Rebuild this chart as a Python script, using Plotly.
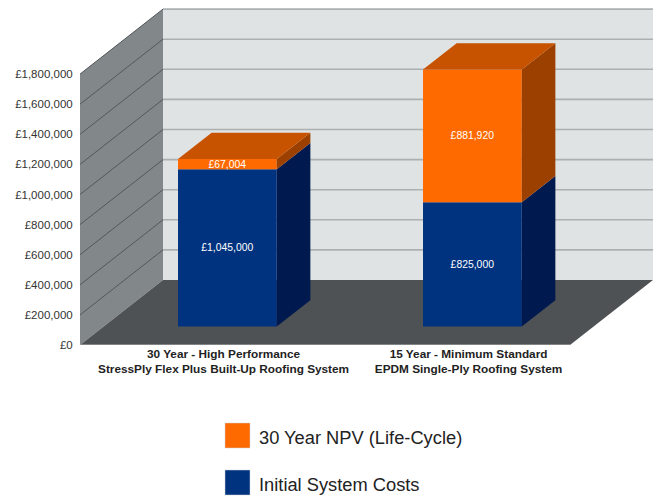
import plotly.graph_objects as go

# ---- data ----
categories = ["30 Year - High Performance<br>StressPly Flex Plus Built-Up Roofing System",
              "15 Year - Minimum Standard<br>EPDM Single-Ply Roofing System"]
initial_costs = [1045000, 825000]
npv_costs = [67004, 881920]
y_ticks = [0, 200000, 400000, 600000, 800000, 1000000, 1200000, 1400000, 1600000, 1800000]
y_tick_labels = ["£0", "£200,000", "£400,000", "£600,000", "£800,000", "£1,000,000",
                 "£1,200,000", "£1,400,000", "£1,600,000", "£1,800,000"]
initial_name = "Initial System Costs"
npv_name = "30 Year NPV (Life-Cycle)"

# ---- oblique projection set-up ----
W, H = 654, 496
ML, MR, MT, MB = 80, 1, 8, 151
PX_PER_CAT = 245.0
UNITS_PER_PX = 200000 / 30.1
plot_w, plot_h = W - ML - MR, H - MT - MB
x_max = plot_w / PX_PER_CAT
y_max = plot_h * UNITS_PER_PX
DEPTH_X = 83 / PX_PER_CAT
DEPTH_Y = 65 * UNITS_PER_PX
BAR_W = 0.403
D0, D1 = 0.285, 0.69   # bar front and back, as fractions of the depth


def proj(x, y, d):
    return x + d * DEPTH_X, y + d * DEPTH_Y


def poly(xs_ys, color, name=""):
    xs = [p[0] for p in xs_ys] + [xs_ys[0][0]]
    ys = [p[1] for p in xs_ys] + [xs_ys[0][1]]
    return go.Scatter(x=xs, y=ys, mode="lines", fill="toself", fillcolor=color,
                      line=dict(width=0, color=color), hoverinfo="skip", showlegend=False)


def path(points):
    return "M" + " L".join(f"{a},{b}" for a, b in points) + " Z"


WALL, SIDEWALL, FLOOR = "#E0E3E3", "#82878A", "#4F5254"
BLUE, BLUE_SIDE = "#00337F", "#001A50"
ORANGE, ORANGE_TOP, ORANGE_SIDE = "#FF6A00", "#C75200", "#9C4000"

shapes = []
top = y_ticks[-1]
shapes.append(dict(type="path", xref="x", yref="y", layer="below", line_width=0, fillcolor=SIDEWALL,
                   path=path([proj(0, 0, 0), proj(0, top, 0), proj(0, top, 1), proj(0, 0, 1)])))
shapes.append(dict(type="path", xref="x", yref="y", layer="below", line_width=0, fillcolor=WALL,
                   path=path([proj(0, 0, 1), proj(0, top, 1), proj(2, top, 1), proj(2, 0, 1)])))
shapes.append(dict(type="path", xref="x", yref="y", layer="below", line_width=0, fillcolor=FLOOR,
                   path=path([proj(0, 0, 0), proj(0, 0, 1), proj(2, 0, 1), proj(2, 0, 0)])))
for v in y_ticks[1:]:
    a, b, c = proj(0, v, 0), proj(0, v, 1), proj(2, v, 1)
    shapes.append(dict(type="line", xref="x", yref="y", layer="below", x0=a[0], y0=a[1], x1=b[0], y1=b[1],
                       line=dict(color="#54585A", width=1)))
    shapes.append(dict(type="line", xref="x", yref="y", layer="below", x0=b[0], y0=b[1], x1=c[0], y1=c[1],
                       line=dict(color="#ABB0B0", width=1.6)))
# pale front edge of the floor
shapes.append(dict(type="line", xref="x", yref="y", layer="below", x0=0, y0=0, x1=2, y1=0,
                   line=dict(color="#B4B8B8", width=1.2)))


# legend swatches in canvas pixels, converted to paper fractions
def px(x):
    return (x - ML) / plot_w


def py(y):
    return 1 - (y - MT) / plot_h


annotations = []
for (y0, color, name) in [(423, ORANGE, npv_name), (470, BLUE, initial_name)]:
    shapes.append(dict(type="rect", xref="paper", yref="paper", x0=px(225), x1=px(250),
                       y0=py(y0 + 25), y1=py(y0), fillcolor=color, line=dict(width=0.5, color="#C8D0D8")))
    annotations.append(dict(xref="paper", yref="paper", x=px(256.5), y=py(y0 + 14), text=name, showarrow=False,
                            xanchor="left", yanchor="middle",
                            font=dict(family="Liberation Sans", size=18.3, color="#222222")))

fig = go.Figure()
centers = [i + 0.5 for i in range(len(categories))]
floor_offset = D0 * DEPTH_Y
bar_x = [c + D0 * DEPTH_X + 0.005 for c in centers]
span = D1 - D0

for i, cx in enumerate(bar_x):
    xr = cx + BAR_W / 2
    xl = cx - BAR_W / 2
    y0 = floor_offset
    y1 = y0 + initial_costs[i]
    y2 = y1 + npv_costs[i]
    s = lambda x, y: (x + span * DEPTH_X, y + span * DEPTH_Y)
    fig.add_trace(poly([(xr, y0), (xr, y1), s(xr, y1), s(xr, y0)], BLUE_SIDE))
    fig.add_trace(poly([(xr, y1), (xr, y2), s(xr, y2), s(xr, y1)], ORANGE_SIDE))
    fig.add_trace(poly([(xl, y2), (xr, y2), s(xr, y2), s(xl, y2)], ORANGE_TOP))

label_font = dict(family="Liberation Sans", size=10.4, color="white")
fig.add_trace(go.Bar(x=bar_x, y=initial_costs, base=[floor_offset] * 2, width=BAR_W, name=initial_name,
                     marker=dict(color=BLUE, line_width=0), text=[f"£{v:,}" for v in initial_costs],
                     textposition="inside", insidetextanchor="middle", textangle=0,
                     insidetextfont=label_font, constraintext="none", showlegend=False))
fig.add_trace(go.Bar(x=bar_x, y=npv_costs, base=[floor_offset + v for v in initial_costs], width=BAR_W,
                     name=npv_name, marker=dict(color=ORANGE, line_width=0),
                     text=[f"£{v:,}" for v in npv_costs], textposition="inside",
                     insidetextanchor="middle", textangle=0, insidetextfont=label_font,
                     constraintext="none", showlegend=False))

fig.update_layout(
    width=W, height=H, paper_bgcolor="white", plot_bgcolor="white", barmode="overlay",
    margin=dict(l=ML, r=MR, t=MT, b=MB, pad=0), showlegend=False,
    shapes=shapes, annotations=annotations,
    font=dict(family="Liberation Sans"),
    xaxis=dict(range=[0, x_max], showgrid=False, zeroline=False, showline=False,
               ticks="", ticklen=0,
               tickmode="array", tickvals=[c + 0.086 for c in centers],
               ticktext=[f"<b>{c}</b>".replace("<br>", "</b><br><b>") for c in categories],
               tickfont=dict(family="Liberation Sans", size=11.8, color="#222222")),
    yaxis=dict(range=[0, y_max], showgrid=False, zeroline=False, showline=False,
               ticks="outside", ticklen=4, tickcolor="rgba(0,0,0,0)",
               tickmode="array", tickvals=y_ticks, ticktext=y_tick_labels,
               tickfont=dict(family="Liberation Sans", size=11.5, color="#333333")),
)
fig.write_html("out.html", post_script="document.body.style.margin='0';",
               config=dict(displayModeBar=False))
